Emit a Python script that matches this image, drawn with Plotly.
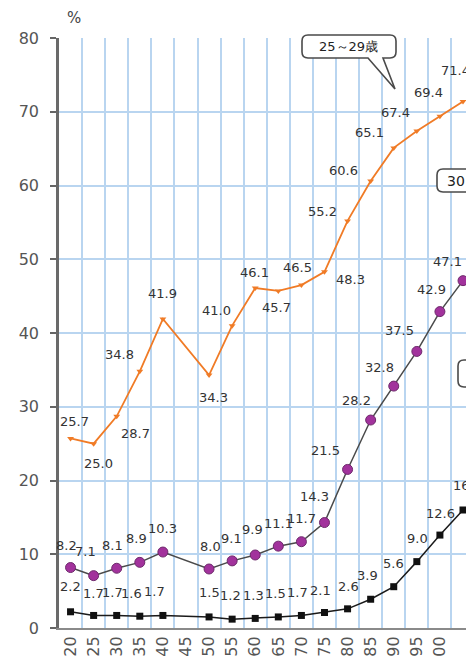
import plotly.graph_objects as go

# Census years (1920-2005), two-digit labels
years = ["20", "25", "30", "35", "40", "45", "50", "55", "60", "65",
         "70", "75", "80", "85", "90", "95", "00", "05"]

# Unmarried rate of men (%) -- no census in 1945
age_25_29 = [25.7, 25.0, 28.7, 34.8, 41.9, None, 34.3, 41.0, 46.1, 45.7,
             46.5, 48.3, 55.2, 60.6, 65.1, 67.4, 69.4, 71.4]
age_30_34 = [8.2, 7.1, 8.1, 8.9, 10.3, None, 8.0, 9.1, 9.9, 11.1,
             11.7, 14.3, 21.5, 28.2, 32.8, 37.5, 42.9, 47.1]
lifetime = [2.2, 1.7, 1.7, 1.6, 1.7, None, 1.5, 1.2, 1.3, 1.5,
            1.7, 2.1, 2.6, 3.9, 5.6, 9.0, 12.6, 16.0]

series_names = ["25～29歳", "30～34歳", "生涯未婚率"]

# ---- layout geometry (pixels) ----
W, H = 466, 663
ML, MR, MT, MB = 59, 0, 38, 35
PW, PH = W - ML - MR, H - MT - MB
X_RANGE = [-0.5, 17.13]

FONT = "DejaVu Sans, Verdana, sans-serif"
GRID = "#b9d5f0"

# label offsets (dx, dy) in pixels relative to each point; dy > 0 is up
off_25_29 = [(4, 17), (5, -20), (19, -17), (-20, 17), (0, 25), None, (4, -22),
             (-16, 15), (-1, 16), (-2, -17), (-4, 18), (26, -8), (-25, 9),
             (-27, 11), (-24, 15), (-21, 18), (-11, 24), (-8, 31)]
off_30_34 = [(-4, 22), (-8, 24), (-4, 23), (-3, 24), (0, 24), None, (1, 23),
             (-1, 22), (-3, 25), (0, 23), (0, 23), (-10, 26), (-22, 19),
             (-14, 20), (-14, 19), (-17, 21), (-8, 22), (-16, 19)]
off_life = [(0, 25), (0, 22), (-4, 23), (-8, 23), (-8, 24), None, (0, 24),
            (-2, 24), (-2, 23), (-3, 23), (-4, 23), (-4, 22), (1, 22),
            (-3, 24), (0, 23), (1, 23), (1, 22), (4, 25)]

xs = list(range(len(years)))

fig = go.Figure()

fig.add_trace(go.Scatter(
    x=xs, y=lifetime, name=series_names[2], mode="lines+markers",
    connectgaps=True,
    line=dict(color="#1a1a1a", width=1.5),
    marker=dict(symbol="square", size=7, color="#111111"),
))
fig.add_trace(go.Scatter(
    x=xs, y=age_30_34, name=series_names[1], mode="lines+markers",
    connectgaps=True,
    line=dict(color="#4a4a4a", width=1.5),
    marker=dict(symbol="circle", size=10, color="#a2329c",
                line=dict(color="#6e2a6c", width=1)),
))
fig.add_trace(go.Scatter(
    x=xs, y=age_25_29, name=series_names[0], mode="lines+markers",
    connectgaps=True,
    line=dict(color="#f07b26", width=1.8),
    marker=dict(symbol="triangle-down", size=6, color="#f07b26"),
))

annotations = []


def add_labels(values, offsets):
    for i, (v, off) in enumerate(zip(values, offsets)):
        if v is None:
            continue
        dx, dy = off
        annotations.append(dict(
            x=i, y=v, xref="x", yref="y", text=f"{v:.1f}", showarrow=False,
            xanchor="center", yanchor="middle",
            xshift=dx, yshift=dy,
            font=dict(family=FONT, size=13, color="#333333"),
        ))


add_labels(age_25_29, off_25_29)
add_labels(age_30_34, off_30_34)
add_labels(lifetime, off_life)


def px(x):
    return (x - ML) / PW


def py(y):
    return (H - MB - y) / PH


def callout_path(x0, y0, x1, y1, r, tail=None):
    """Rounded rectangle (pixel coords) with an optional wedge on the bottom edge."""
    pts = []
    pts.append(f"M{px(x0 + r)},{py(y0)}")
    pts.append(f"L{px(x1 - r)},{py(y0)}")
    pts.append(f"Q{px(x1)},{py(y0)} {px(x1)},{py(y0 + r)}")
    pts.append(f"L{px(x1)},{py(y1 - r)}")
    pts.append(f"Q{px(x1)},{py(y1)} {px(x1 - r)},{py(y1)}")
    if tail:
        (ta, tb, tx, ty) = tail
        pts.append(f"L{px(tb)},{py(y1)}")
        pts.append(f"L{px(tx)},{py(ty)}")
        pts.append(f"L{px(ta)},{py(y1)}")
    pts.append(f"L{px(x0 + r)},{py(y1)}")
    pts.append(f"Q{px(x0)},{py(y1)} {px(x0)},{py(y1 - r)}")
    pts.append(f"L{px(x0)},{py(y0 + r)}")
    pts.append(f"Q{px(x0)},{py(y0)} {px(x0 + r)},{py(y0)}")
    pts.append("Z")
    return " ".join(pts)


def box_text(x, y, text, size, anchor="center"):
    annotations.append(dict(x=px(x), y=py(y), xref="paper", yref="paper",
                            xanchor=anchor, yanchor="middle",
                            text=text, showarrow=False,
                            font=dict(family=FONT, size=size, color="#222222")))


shapes = []
box_style = dict(type="path", xref="paper", yref="paper",
                 line=dict(color="#4a4a4a", width=1.6), fillcolor="white",
                 layer="above")

# callout for the 25-29 series
shapes.append(dict(path=callout_path(302, 35, 396, 58, 6,
                                     tail=(368, 383, 395, 89)), **box_style))
box_text(348, 46.5, series_names[0], 13)

# callout for the 30-34 series
shapes.append(dict(path=callout_path(437, 169, 530, 192, 6), **box_style))
box_text(445, 180.5, series_names[1], 14, anchor="left")

# callout for the lifetime series
shapes.append(dict(path=callout_path(458, 360, 560, 387, 6), **box_style))
box_text(468, 373.5, series_names[2], 14, anchor="left")

# unit label
annotations.append(dict(x=px(74), y=py(18), xref="paper", yref="paper",
                        xanchor="center", yanchor="middle",
                        text="%", showarrow=False,
                        font=dict(family=FONT, size=15, color="#444444")))

fig.update_layout(
    width=W, height=H,
    margin=dict(l=ML, r=MR, t=MT, b=MB, pad=0),
    paper_bgcolor="white", plot_bgcolor="white",
    showlegend=False,
    annotations=annotations,
    shapes=shapes,
    font=dict(family=FONT, color="#444444"),
)

fig.update_xaxes(
    range=X_RANGE, tickmode="array", tickvals=xs, ticktext=years,
    tickangle=-90, ticks="", showgrid=False, zeroline=False,
    showline=True, linecolor="#8a8a8a", linewidth=2,
    tickfont=dict(family=FONT, size=16, color="#555555"),
    minor=dict(tickmode="array", tickvals=[i + 0.5 for i in range(-1, 18)],
               showgrid=True, gridcolor=GRID, gridwidth=1.5, ticks=""),
)
fig.update_yaxes(
    range=[0, 80], dtick=10, tick0=0,
    ticks="outside", ticklen=6, tickwidth=1.5, tickcolor="#666666",
    showgrid=True, gridcolor=GRID, gridwidth=1.5, zeroline=False,
    showline=True, linecolor="#6a6a6a", linewidth=2.5,
    ticklabelstandoff=8,
    tickfont=dict(family=FONT, size=16, color="#555555"),
)

fig.write_html("out.html")
